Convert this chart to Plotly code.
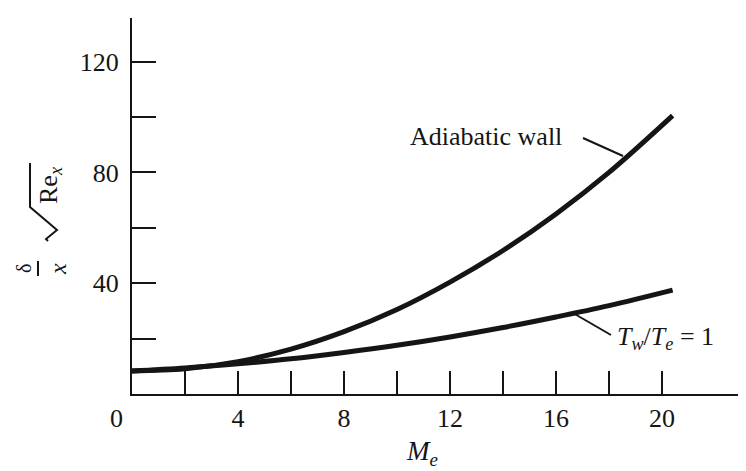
import plotly.graph_objects as go

# ---- data ----
mach = [0, 2, 4, 6, 8, 10, 12, 14, 16, 18, 20.4]
delta_adiabatic = [8.3, 9.1, 11.7, 16.2, 22.5, 30.5, 40.4, 51.8, 65.0, 80.0, 100.5]
delta_tw_te_1 = [8.3, 9.4, 10.9, 12.7, 15.0, 17.6, 20.6, 24.0, 27.8, 31.9, 37.5]

x_tick_vals = [4, 8, 12, 16, 20]
x_tick_text = ["4", "8", "12", "16", "20"]
x_minor_vals = [2, 6, 10, 14, 18]
y_tick_vals = [40, 80, 120]
y_tick_text = ["40", "80", "120"]
y_minor_vals = [20, 60, 100]

# ---- layout geometry ----
W, H = 746, 471
L, R, T, B = 124, 0, 10, 85
PW, PH = W - L - R, H - T - B
X_RANGE = [0, PW / 26.5]
Y_RANGE = [0, PH / 2.77]


def px(x):
    return (x - L) / PW


def py(y):
    return (H - B - y) / PH


FONT = "Liberation Serif"
INK = "#151515"

fig = go.Figure()
fig.add_trace(go.Scatter(x=mach, y=delta_adiabatic, mode="lines",
                         line=dict(color=INK, width=5, shape="spline"),
                         showlegend=False, hoverinfo="skip"))
fig.add_trace(go.Scatter(x=mach, y=delta_tw_te_1, mode="lines",
                         line=dict(color=INK, width=5, shape="spline"),
                         showlegend=False, hoverinfo="skip"))

fig.update_layout(
    width=W, height=H,
    margin=dict(l=L, r=R, t=T, b=B),
    paper_bgcolor="white", plot_bgcolor="white",
    font=dict(family=FONT, size=26, color=INK),
    xaxis=dict(range=X_RANGE, showgrid=False, zeroline=False,
               showline=True, linewidth=2, linecolor=INK,
               ticks="inside", ticklen=23, tickwidth=2, tickcolor=INK,
               tickvals=x_tick_vals, ticktext=x_tick_text,
               minor=dict(ticks="inside", ticklen=23, tickwidth=2,
                          tickcolor=INK, tickmode="array",
                          tickvals=x_minor_vals, showgrid=False),
               tickfont=dict(family=FONT, size=26, color=INK)),
    yaxis=dict(range=Y_RANGE, showgrid=False, zeroline=False,
               showline=True, linewidth=2, linecolor=INK,
               ticks="inside", ticklen=24, tickwidth=2, tickcolor=INK,
               tickvals=y_tick_vals, ticktext=y_tick_text,
               ticklabelstandoff=6,
               minor=dict(ticks="inside", ticklen=24, tickwidth=2,
                          tickcolor=INK, tickmode="array",
                          tickvals=y_minor_vals, showgrid=False),
               tickfont=dict(family=FONT, size=26, color=INK)),
)

annotations = [
    # origin label
    dict(text="0", xref="paper", yref="paper", x=px(108), y=py(410),
         showarrow=False, xanchor="center", yanchor="middle",
         font=dict(family=FONT, size=26, color=INK)),
    # x title
    dict(text="<i>M</i><sub><i>e</i></sub>", xref="paper", yref="paper",
         x=px(414), y=py(445), showarrow=False, xanchor="center", yanchor="middle",
         font=dict(family=FONT, size=27, color=INK)),
    # curve labels
    dict(text="Adiabatic wall", xref="paper", yref="paper",
         x=px(400), y=py(128), showarrow=False, xanchor="left", yanchor="middle",
         font=dict(family=FONT, size=26, color=INK)),
    dict(text="<i>T</i><sub><i>w</i></sub>/<i>T</i><sub><i>e</i></sub> = 1",
         xref="paper", yref="paper", x=px(607), y=py(330), showarrow=False,
         xanchor="left", yanchor="middle",
         font=dict(family=FONT, size=26, color=INK)),
    # y title pieces (rotated)
    dict(text="δ", xref="paper", yref="paper", x=px(16), y=py(260),
         showarrow=False, textangle=-90, xanchor="center", yanchor="middle",
         font=dict(family=FONT, size=20, color=INK)),
    dict(text="<i>x</i>", xref="paper", yref="paper", x=px(50), y=py(261),
         showarrow=False, textangle=-90, xanchor="center", yanchor="middle",
         font=dict(family=FONT, size=24, color=INK)),
    dict(text="Re<sub><i>x</i></sub>", xref="paper", yref="paper", x=px(42), y=py(178),
         showarrow=False, textangle=-90, xanchor="center", yanchor="middle",
         font=dict(family=FONT, size=26, color=INK)),
]
fig.update_layout(annotations=annotations)

line_style = dict(color=INK, width=2)
shapes = [
    # leader lines
    dict(type="line", xref="paper", yref="paper",
         x0=px(575), y0=py(130), x1=px(615), y1=py(148), line=line_style),
    dict(type="line", xref="paper", yref="paper",
         x0=px(603), y0=py(327), x1=px(565), y1=py(305), line=line_style),
    # fraction bar
    dict(type="line", xref="paper", yref="paper",
         x0=px(30), y0=py(253), x1=px(30), y1=py(268), line=line_style),
    # radical sign
    dict(type="path", xref="paper", yref="paper",
         path=(f"M {px(22)},{py(155)} L {px(22)},{py(199)} "
               f"L {px(49)},{py(222)} L {px(38)},{py(231)} L {px(40)},{py(233)}"),
         line=line_style),
]
fig.update_layout(shapes=shapes)

fig.write_html("out.html")
